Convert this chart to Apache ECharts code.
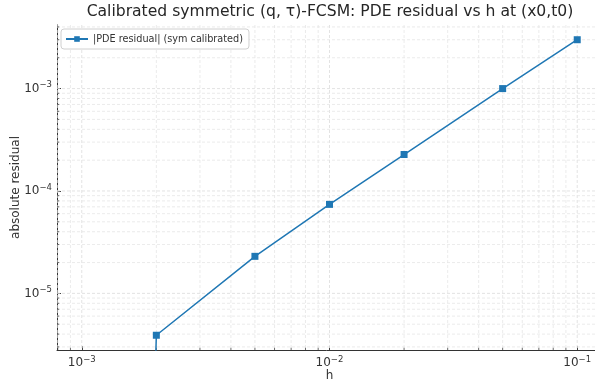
<!DOCTYPE html>
<html><head><meta charset="utf-8">
<script src="https://cdn.jsdelivr.net/npm/echarts@6/dist/echarts.min.js"></script>
<style>html,body{margin:0;padding:0;background:#fff}#c{width:595px;height:381px}</style>
</head><body><div id="c"></div>
<script>
// step sizes h
const hValues = [0.1, 0.05, 0.02, 0.01, 0.005, 0.002, 0.001];
// |PDE residual| ; the h=0.001 value is ~0 (drops off the bottom of the log axis)
const residuals = [3.0e-3, 1.0e-3, 2.27e-4, 7.4e-5, 2.3e-5, 3.9e-6, 1e-30];
const seriesName = '|PDE residual| (sym calibrated)';
// axis limits
const xLimits = [Math.pow(10, -3.1), Math.pow(10, -0.9)];
const yLimits = [Math.pow(10, -5.553), Math.pow(10, -2.379)];
// grid line positions (major decades + minor 2..9)
const xGrid = [8e-4, 9e-4, 1e-3, 2e-3, 3e-3, 4e-3, 5e-3, 6e-3, 7e-3, 8e-3, 9e-3,
  1e-2, 2e-2, 3e-2, 4e-2, 5e-2, 6e-2, 7e-2, 8e-2, 9e-2, 1e-1];
const yGrid = [3e-6, 4e-6, 5e-6, 6e-6, 7e-6, 8e-6, 9e-6,
  1e-5, 2e-5, 3e-5, 4e-5, 5e-5, 6e-5, 7e-5, 8e-5, 9e-5,
  1e-4, 2e-4, 3e-4, 4e-4, 5e-4, 6e-4, 7e-4, 8e-4, 9e-4,
  1e-3, 2e-3, 3e-3, 4e-3];

const FONT = 'DejaVu Sans';
const TXT = '#333';
function isDecade(v) {
  const e = Math.log10(v);
  return Math.abs(e - Math.round(e)) < 1e-6;
}
function pow10Label(v) {
  if (!isDecade(v)) return '';
  const r = Math.round(Math.log10(v));
  return '{b|10}{s|' + (r < 0 ? '\u2212' : '') + Math.abs(r) + '}';
}
const richLbl = {
  b: { fontSize: 12, fontFamily: FONT, color: TXT, lineHeight: 16 },
  s: { fontSize: 8.5, fontFamily: FONT, color: TXT, lineHeight: 16, padding: [0, 0, 7, 0] }
};
const gridData = xGrid.map(v => ['x', v]).concat(yGrid.map(v => ['y', v]));

const chart = echarts.init(document.getElementById('c'), null, { renderer: 'canvas' });
chart.setOption({
  animation: false,
  backgroundColor: '#fff',
  title: {
    text: 'Calibrated symmetric (q, \u03c4)-FCSM: PDE residual vs h at (x0,t0)',
    left: 325, top: -1, textAlign: 'center',
    textStyle: { fontFamily: FONT, fontSize: 15.6, fontWeight: 'normal', color: '#262626' }
  },
  legend: {
    left: 61, top: 29, orient: 'vertical',
    padding: [5, 6, 5, 4],
    itemWidth: 22, itemHeight: 7, itemGap: 6,
    borderColor: '#d0d0d0', borderWidth: 1, borderRadius: 3,
    backgroundColor: 'rgba(255,255,255,0.93)',
    textStyle: { fontFamily: FONT, fontSize: 9.7, color: TXT },
    data: [{ name: seriesName }]
  },
  grid: { left: 57, right: -7, top: 25, bottom: 31, containLabel: false, outerBoundsMode: 'none' },
  xAxis: {
    type: 'log', logBase: 10, min: xLimits[0], max: xLimits[1],
    name: 'h', nameLocation: 'middle', nameGap: 20, nameMoveOverlap: false,
    nameTextStyle: { fontFamily: FONT, fontSize: 12, color: TXT },
    axisLine: { show: true, lineStyle: { color: '#333', width: 1 } },
    axisTick: { show: true, inside: true, length: 4, lineStyle: { color: '#444' } },
    axisLabel: { formatter: pow10Label, rich: richLbl, margin: 5, showMinLabel: false, showMaxLabel: false },
    splitLine: { show: false }
  },
  yAxis: {
    type: 'log', logBase: 10, min: yLimits[0], max: yLimits[1],
    name: 'absolute residual', nameLocation: 'middle', nameGap: 35, nameMoveOverlap: false,
    nameTextStyle: { fontFamily: FONT, fontSize: 12, color: TXT },
    axisLine: { show: true, lineStyle: { color: '#333', width: 1 } },
    axisTick: { show: true, inside: true, length: 4, lineStyle: { color: '#444' } },
    axisLabel: { formatter: pow10Label, rich: richLbl, margin: 5, showMinLabel: false, showMaxLabel: false },
    splitLine: { show: false }
  },
  series: [
    {
      name: 'grid-lines', type: 'custom', silent: true, z: 1, clip: true,
      data: gridData,
      encode: { x: -1, y: -1 },
      renderItem: function (params, api) {
        const d = gridData[params.dataIndex];
        const major = isDecade(d[1]);
        const c = params.coordSys;
        const style = { stroke: major ? '#dcdcdc' : '#e6e6e6', lineWidth: 0.8, lineDash: [3, 2] };
        const children = [];
        if (d[0] === 'x') {
          const p = api.coord([d[1], yLimits[0]]);
          children.push({ type: 'line', shape: { x1: p[0], y1: c.y, x2: p[0], y2: c.y + c.height }, style: style });
          if (!major) children.push({ type: 'line', shape: { x1: p[0], y1: p[1], x2: p[0], y2: p[1] - 2.2 }, style: { stroke: '#444', lineWidth: 0.8 }, z2: 5 });
        } else {
          const p = api.coord([xLimits[0], d[1]]);
          children.push({ type: 'line', shape: { x1: c.x, y1: p[1], x2: c.x + c.width, y2: p[1] }, style: style });
          if (!major) children.push({ type: 'line', shape: { x1: p[0], y1: p[1], x2: p[0] + 2.2, y2: p[1] }, style: { stroke: '#444', lineWidth: 0.8 }, z2: 5 });
        }
        return { type: 'group', children: children };
      }
    },
    {
      name: seriesName, type: 'line', z: 3,
      data: hValues.map((h, i) => [h, residuals[i]]),
      symbol: 'rect', symbolSize: 7, showAllSymbol: true,
      lineStyle: { color: '#1f77b4', width: 1.5 },
      itemStyle: { color: '#1f77b4' },
      clip: true
    }
  ]
});
</script>
</body></html>
